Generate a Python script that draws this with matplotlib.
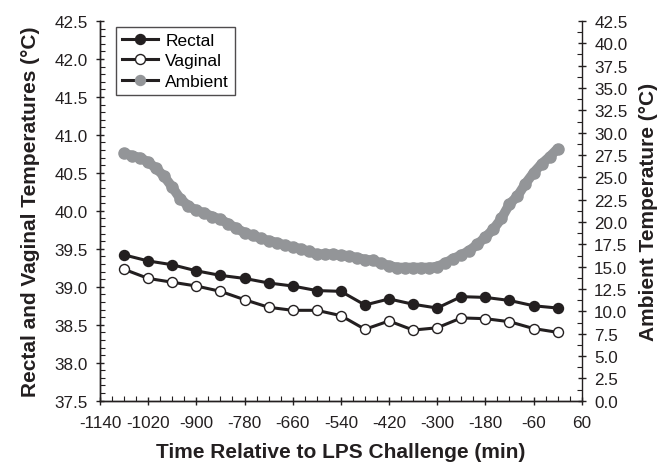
import matplotlib.pyplot as plt
from matplotlib.lines import Line2D
from matplotlib.ticker import MultipleLocator, FixedLocator, FuncFormatter

plt.rcParams['font.family'] = ['Liberation Sans', 'DejaVu Sans']

# rectal / vaginal readings every 60 min
time_min = [-1080, -1020, -960, -900, -840, -780, -720, -660, -600, -540,
            -480, -420, -360, -300, -240, -180, -120, -60, 0]
rectal = [39.42, 39.34, 39.29, 39.21, 39.15, 39.11, 39.05, 39.01, 38.95, 38.94,
          38.76, 38.84, 38.77, 38.72, 38.87, 38.86, 38.82, 38.75, 38.72]
vaginal = [39.23, 39.11, 39.06, 39.01, 38.94, 38.83, 38.73, 38.69, 38.69, 38.62,
           38.44, 38.55, 38.43, 38.46, 38.59, 38.58, 38.54, 38.45, 38.40]

# ambient logged every 20 min
amb_time = list(range(-1080, 1, 20))
ambient = [27.7, 27.4, 27.2, 26.7, 26.0, 25.1, 23.9, 22.6, 21.8, 21.3,
           21.0, 20.6, 20.3, 19.8, 19.3, 18.8, 18.5, 18.2, 17.9, 17.7,
           17.4, 17.2, 17.0, 16.7, 16.4, 16.4, 16.4, 16.3, 16.2, 16.0,
           15.8, 15.7, 15.4, 15.1, 14.9, 14.9, 14.9, 14.9, 14.9, 15.0,
           15.4, 15.9, 16.3, 16.8, 17.5, 18.3, 19.2, 20.4, 22.0, 22.9,
           24.3, 25.5, 26.5, 27.3, 28.2]

x_ticks = list(range(-1140, 61, 120))

black = '#231f20'
grey = '#939598'

fig = plt.figure(figsize=(6.69, 4.64), dpi=100)
ax = fig.add_axes([0.1495, 0.1343, 0.72, 0.8183])
ax2 = ax.twinx()

ax2.plot(amb_time, ambient, color=grey, lw=7, marker='o', ms=8,
         solid_capstyle='round', zorder=1)
ax.plot(time_min, rectal, color=black, lw=2.2, marker='o', ms=7.2,
        mfc=black, mec=black, zorder=3)
ax.plot(time_min, vaginal, color=black, lw=2.2, marker='o', ms=7.2,
        mfc='white', mec=black, mew=1.0, zorder=3)

# put the left axes (with the temperature lines) on top
ax.set_zorder(ax2.get_zorder() + 1)
ax.patch.set_visible(False)

ax.set_xlim(-1140, 60)
ax.set_ylim(37.5, 42.5)
ax2.set_ylim(0, 42.5)

ax.xaxis.set_major_locator(FixedLocator(x_ticks))
ax.xaxis.set_minor_locator(MultipleLocator(30))
ax.xaxis.set_major_formatter(FuncFormatter(lambda v, p: '%d' % v))
ax.yaxis.set_major_locator(MultipleLocator(0.5))
ax.yaxis.set_minor_locator(MultipleLocator(0.1))
ax.yaxis.set_major_formatter(FuncFormatter(lambda v, p: '%.1f' % v))
ax2.yaxis.set_major_locator(MultipleLocator(2.5))
ax2.yaxis.set_minor_locator(MultipleLocator(1.25))
ax2.yaxis.set_major_formatter(FuncFormatter(lambda v, p: '%.1f' % v))

for a in (ax, ax2):
    a.tick_params(which='major', direction='inout', length=6, width=1,
                  labelsize=12.3, colors=black, pad=6)
    a.tick_params(which='minor', direction='in', length=3.5, width=0.8,
                  colors=black)
    for s in a.spines.values():
        s.set_color(black)
        s.set_linewidth(1)
ax.tick_params(axis='x', which='major', pad=7)
ax.spines['top'].set_visible(False)
ax2.spines['top'].set_visible(False)
ax.spines['right'].set_visible(False)

ax.set_xlabel('Time Relative to LPS Challenge (min)', fontsize=15,
              fontweight='bold', color=black, labelpad=9)
ax.set_ylabel('Rectal and Vaginal Temperatures (\u00b0C)', fontsize=15,
              fontweight='bold', color=black, labelpad=10)
ax2.set_ylabel('Ambient Temperature (\u00b0C)', fontsize=15,
               fontweight='bold', color=black, labelpad=8)

handles = [
    Line2D([], [], color=black, lw=2.2, marker='o', ms=7.2, mfc=black, mec=black),
    Line2D([], [], color=black, lw=2.2, marker='o', ms=7.2, mfc='white', mec=black),
    Line2D([], [], color=black, lw=2.2, marker='o', ms=7.2, mfc=grey, mec=grey),
]
leg = ax.legend(handles, ['Rectal', 'Vaginal', 'Ambient'], loc='upper left',
                bbox_to_anchor=(0.033, 0.985), fontsize=12.5, frameon=True,
                fancybox=False, edgecolor=black, handlelength=2.1,
                handletextpad=0.4, borderpad=0.35, labelspacing=0.3,
                borderaxespad=0)
leg.get_frame().set_linewidth(1)

fig.savefig('out.png', dpi=100)
